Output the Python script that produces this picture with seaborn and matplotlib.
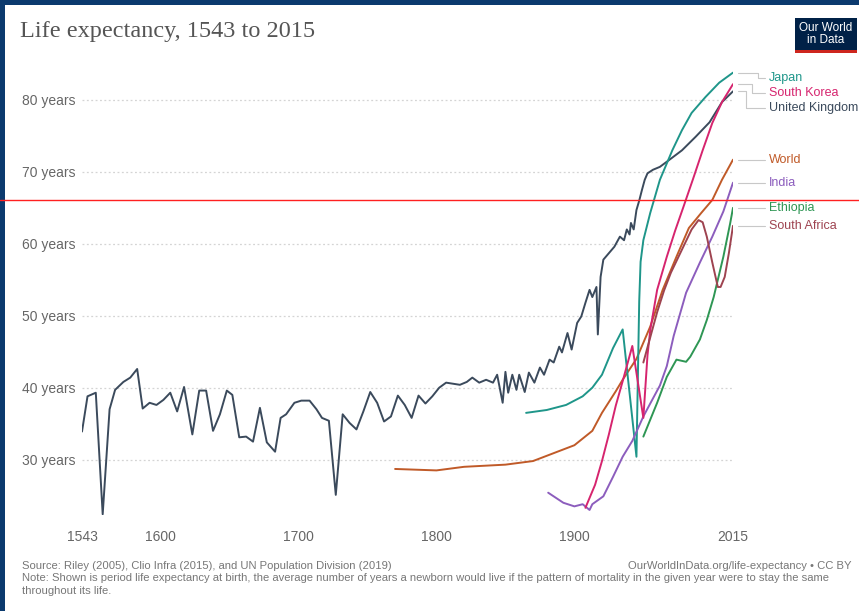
import numpy as np
import pandas as pd
import matplotlib
matplotlib.use("Agg")
import matplotlib.pyplot as plt
import seaborn as sns
from matplotlib.patches import Rectangle
from matplotlib.lines import Line2D

# --- data ---
uk_years = [1543, 1547, 1553, 1558, 1563, 1567, 1573, 1578, 1583, 1587, 1592, 1597, 1602, 1607,
            1612, 1617, 1623, 1628, 1633, 1638, 1643, 1648, 1652, 1657, 1662, 1667, 1672, 1677,
            1683, 1687, 1691, 1697, 1702, 1708, 1713, 1717, 1722, 1727, 1732, 1737, 1742, 1747,
            1752, 1757, 1762, 1767, 1772, 1777, 1782, 1787, 1792, 1797, 1802, 1807, 1817, 1822,
            1826, 1831, 1836, 1841, 1844, 1848, 1850, 1852, 1855, 1858, 1860, 1864, 1867, 1871,
            1875, 1878, 1882, 1885, 1889, 1891, 1895, 1898, 1902, 1905, 1908, 1911, 1913, 1916,
            1917, 1919, 1921, 1925, 1929, 1933, 1936, 1938, 1940, 1941, 1943, 1945, 1947, 1949,
            1951, 1953, 1957, 1962, 1969, 1978, 1988, 1998, 2007, 2015]
uk_vals = [33.9, 38.8, 39.3, 22.4, 37.0, 39.7, 40.8, 41.4, 42.6, 37.1, 37.9, 37.6, 38.3, 39.3,
           36.7, 40.1, 33.5, 39.6, 39.6, 34.0, 36.3, 39.6, 39.0, 33.1, 33.2, 32.5, 37.2, 32.4,
           31.1, 35.8, 36.3, 37.9, 38.2, 38.2, 37.0, 35.8, 35.4, 25.1, 36.3, 35.1, 34.2, 36.7,
           39.4, 37.9, 35.3, 36.0, 38.9, 37.6, 35.8, 38.9, 37.8, 38.8, 40.0, 40.7, 40.4, 40.8,
           41.4, 40.7, 41.1, 40.7, 41.8, 37.9, 42.2, 39.3, 41.8, 39.7, 41.8, 39.4, 42.1, 40.7,
           42.8, 41.8, 43.9, 43.5, 45.7, 44.9, 47.6, 45.3, 49.0, 49.9, 51.8, 53.6, 52.6, 54.0,
           47.4, 55.4, 57.8, 58.7, 59.6, 61.0, 60.5, 62.0, 61.3, 62.9, 62.0, 64.7, 66.0, 67.5,
           68.9, 69.8, 70.3, 70.7, 71.7, 73.0, 74.9, 76.9, 79.7, 81.2]

japan_years = [1865, 1880, 1894, 1906, 1913, 1920, 1928, 1935, 1945, 1947, 1948, 1950, 1955,
               1962, 1971, 1978, 1985, 1995, 2005, 2015]
japan_vals = [36.5, 36.9, 37.6, 38.8, 40.0, 41.8, 45.5, 48.1, 30.4, 52.0, 57.5, 60.5, 64.3,
              68.9, 73.0, 75.8, 78.2, 80.4, 82.4, 83.8]

korea_years = [1908, 1915, 1920, 1925, 1930, 1935, 1942, 1950, 1953, 1955, 1960, 1967, 1973,
               1979, 1986, 1993, 2000, 2007, 2015]
korea_vals = [23.3, 26.5, 29.8, 33.5, 37.5, 40.9, 45.8, 35.8, 44.5, 48.0, 53.6, 58.2, 61.8,
              65.1, 69.0, 73.0, 76.8, 79.7, 82.2]

world_years = [1770, 1800, 1820, 1850, 1870, 1885, 1900, 1913, 1920, 1930, 1935, 1945, 1955,
               1964, 1974, 1983, 1992, 2000, 2007, 2015]
world_vals = [28.7, 28.5, 29.0, 29.3, 29.8, 30.9, 32.0, 34.0, 36.5, 39.5, 41.1, 44.0, 48.5,
              53.6, 58.2, 62.2, 64.3, 66.1, 68.9, 71.7]

india_years = [1881, 1892, 1900, 1906, 1911, 1913, 1921, 1928, 1935, 1942, 1950, 1955, 1962,
               1967, 1972, 1981, 1991, 2000, 2008, 2015]
india_vals = [25.4, 24.0, 23.5, 23.8, 23.0, 23.8, 24.9, 27.6, 30.4, 32.6, 36.0, 37.8, 40.3,
              43.0, 47.2, 53.2, 57.4, 61.0, 64.5, 68.5]

ethiopia_years = [1950, 1960, 1967, 1974, 1981, 1984, 1991, 1996, 2001, 2008, 2013, 2015]
ethiopia_vals = [33.2, 37.9, 41.5, 43.9, 43.6, 44.3, 46.7, 49.4, 52.6, 58.2, 62.9, 65.0]

safrica_years = [1950, 1955, 1960, 1965, 1970, 1975, 1980, 1985, 1990, 1993, 1996, 2000, 2004,
                 2006, 2009, 2012, 2015]
safrica_vals = [43.5, 47.0, 50.5, 53.5, 56.0, 58.0, 60.0, 62.0, 63.3, 63.0, 61.0, 57.4, 54.0,
                54.0, 55.4, 58.7, 62.5]

countries = ["Japan", "South Korea", "United Kingdom", "World", "India", "Ethiopia", "South Africa"]
colors = {"Japan": "#1f968a", "South Korea": "#d6246e", "United Kingdom": "#3b4a5c",
          "World": "#c05a28", "India": "#8c5dbd", "Ethiopia": "#2e9654",
          "South Africa": "#9e4350"}

series = {"Japan": (japan_years, japan_vals), "South Korea": (korea_years, korea_vals),
          "United Kingdom": (uk_years, uk_vals), "World": (world_years, world_vals),
          "India": (india_years, india_vals), "Ethiopia": (ethiopia_years, ethiopia_vals),
          "South Africa": (safrica_years, safrica_vals)}

df = pd.concat([pd.DataFrame({"Year": y, "Life expectancy": v, "Entity": name})
                for name, (y, v) in series.items()], ignore_index=True)

# --- plot ---
sns.set_style("white")
plt.rcParams["font.family"] = ["Liberation Sans", "DejaVu Sans"]

fig = plt.figure(figsize=(8.59, 6.11), dpi=100)
W, H = 859, 611
ax = fig.add_axes([82 / W, 1 - 515 / H, (733 - 82) / W, (515 - 64) / H])

order = ["United Kingdom", "World", "Japan", "India", "South Korea", "Ethiopia", "South Africa"]
for name in order:
    sns.lineplot(data=df[df["Entity"] == name], x="Year", y="Life expectancy",
                 color=colors[name], linewidth=1.4, estimator=None, ax=ax, legend=False)

ax.set_xlim(1543, 2015)
ax.set_ylim(22.3, 85)
ax.set_xlabel("")
ax.set_ylabel("")
for s in ax.spines.values():
    s.set_visible(False)

yt = [30, 40, 50, 60, 70, 80]
ax.set_yticks(yt)
ax.set_yticklabels([f"{t} years" for t in yt])
xt = [1543, 1600, 1700, 1800, 1900, 2015]
ax.set_xticks(xt)
ax.set_xticklabels([str(t) for t in xt])
ax.tick_params(axis="y", length=0, pad=5, labelsize=10, labelcolor="#666666")
ax.tick_params(axis="x", length=3, width=0.8, color="#cccccc", pad=8, labelsize=10,
               labelcolor="#666666")
ax.yaxis.grid(True, linestyle=(0, (1.5, 2)), color="#d4d4d4", linewidth=0.9)
ax.xaxis.grid(False)
ax.set_axisbelow(True)

# end labels with connector lines
ends = [(name, series[name][1][-1]) for name in countries]
ends.sort(key=lambda t: -t[1])
label_y = {}
prev = None
for name, v in ends:
    y = v - 0.8 if prev is None else min(v, prev - 2.05)
    label_y[name] = y
    prev = y

px = 1 / 1.379  # years per pixel
for i, (name, v) in enumerate(ends):
    ly = label_y[name]
    x0 = 2015 + 5 * px
    x1 = 2015 + (25 - 6 * i if abs(ly - v) > 0.05 else 18) * px
    x2 = 2015 + 32 * px
    ax.plot([x0, x1, x1, x2], [v, v, ly, ly], color="#c8c8c8", lw=0.8, clip_on=False)
    ax.text(2015 + 36 * px, ly, name, color=colors[name], fontsize=9, va="center",
            ha="left", clip_on=False)

# title and footer
fig.text(20 / W, 1 - 32 / H, "Life expectancy, 1543 to 2015", fontsize=17.5, color="#555555",
         family=["Liberation Serif", "DejaVu Serif"], va="center", ha="left")
foot = dict(fontsize=8.1, color="#777777", va="center")
fig.text(22 / W, 1 - 566 / H,
         "Source: Riley (2005), Clio Infra (2015), and UN Population Division (2019)", **foot)
fig.text(852 / W, 1 - 566 / H, "OurWorldInData.org/life-expectancy \u2022 CC BY",
         ha="right", **foot)
fig.text(22 / W, 1 - 578 / H,
         "Note: Shown is period life expectancy at birth, the average number of years a newborn "
         "would live if the pattern of mortality in the given year were to stay the same", **foot)
fig.text(22 / W, 1 - 591 / H, "throughout its life.", **foot)

# OWID logo
fig.patches.append(Rectangle((795 / W, 1 - 53 / H), 62 / W, 35 / H, transform=fig.transFigure,
                             facecolor="#002147", edgecolor="none"))
fig.patches.append(Rectangle((795 / W, 1 - 53 / H), 62 / W, 3 / H, transform=fig.transFigure,
                             facecolor="#ce261e", edgecolor="none"))
fig.text(826 / W, 1 - 34 / H, "Our World\nin Data", color="white", fontsize=8.5, ha="center",
         va="center", linespacing=1.0)

# screenshot frame and red guide line
fig.patches.append(Rectangle((0, 0), 5 / W, 1, transform=fig.transFigure,
                             facecolor="#0b3a6e", edgecolor="none"))
fig.patches.append(Rectangle((0, 1 - 5 / H), 1, 5 / H, transform=fig.transFigure,
                             facecolor="#0b3a6e", edgecolor="none"))
fig.add_artist(Line2D([0, 1], [1 - 200 / H, 1 - 200 / H], transform=fig.transFigure,
                      color="#ff2020", linewidth=1.0))

fig.savefig("out.png", dpi=100)
